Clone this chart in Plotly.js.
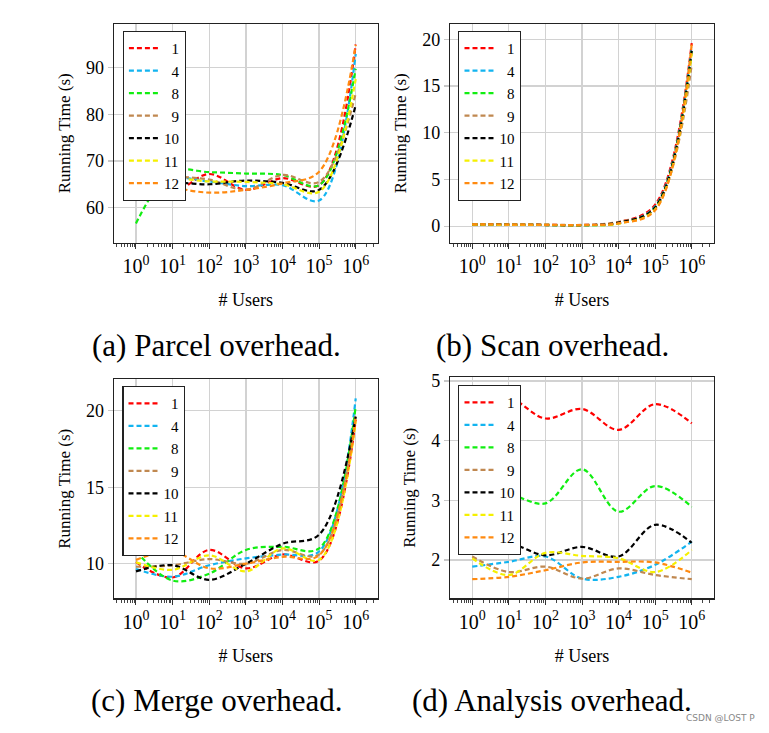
<!DOCTYPE html>
<html>
<head>
<meta charset="utf-8">
<script src="https://cdn.plot.ly/plotly-3.0.1.min.js"></script>
<style>html,body{margin:0;padding:0;background:#fff;}#chart{width:769px;height:733px;}</style>
</head>
<body>
<div id="chart"></div>
<script>
// ---------------- data ----------------
const users = [1, 10, 100, 1000, 10000, 100000, 1000000];
const seriesNames = ["1", "4", "8", "9", "10", "11", "12"];
const xTickVals = [1, 10, 100, 1000, 10000, 100000, 1000000];
const xTickText = ["10<sup>0</sup>", "10<sup>1</sup>", "10<sup>2</sup>", "10<sup>3</sup>", "10<sup>4</sup>", "10<sup>5</sup>", "10<sup>6</sup>"];
const captions = ["(a) Parcel overhead.", "(b) Scan overhead.", "(c) Merge overhead.", "(d) Analysis overhead."];

// (a) Parcel overhead, one row per series (1,4,8,9,10,11,12)
const parcelOverhead = [
  [66.0, 63.4, 67.2, 63.8, 66.3, 64.8, 95.0],
  [61.9, 66.2, 65.6, 64.6, 64.8, 61.5, 93.0],
  [56.6, 67.7, 67.6, 67.3, 67.0, 64.8, 89.8],
  [66.5, 66.6, 66.0, 63.8, 67.0, 65.5, 84.5],
  [64.0, 65.3, 65.0, 65.8, 65.3, 63.8, 82.0],
  [62.7, 66.0, 65.6, 65.5, 65.0, 63.4, 87.6],
  [66.5, 64.4, 63.2, 63.8, 65.2, 67.7, 94.9]
];
// (b) Scan overhead
const scanOverhead = [
  [0.20, 0.18, 0.15, 0.12, 0.42, 2.3, 19.6],
  [0.15, 0.14, 0.12, 0.10, 0.35, 2.1, 19.2],
  [0.18, 0.15, 0.13, 0.11, 0.30, 2.0, 19.0],
  [0.22, 0.20, 0.16, 0.14, 0.45, 1.9, 17.3],
  [0.17, 0.15, 0.12, 0.10, 0.38, 2.0, 18.8],
  [0.16, 0.14, 0.12, 0.10, 0.28, 1.8, 18.5],
  [0.19, 0.17, 0.14, 0.12, 0.30, 1.7, 19.5]
];
// (c) Merge overhead
const mergeOverhead = [
  [10.1, 9.1, 10.9, 9.7, 10.6, 10.2, 19.4],
  [9.65, 9.15, 9.9, 10.35, 10.6, 10.8, 20.8],
  [10.8, 8.9, 9.35, 10.9, 11.1, 11.0, 20.3],
  [9.8, 9.9, 10.3, 10.0, 10.9, 10.6, 19.8],
  [9.5, 9.9, 8.95, 10.0, 11.3, 11.9, 19.6],
  [10.1, 9.6, 10.55, 9.5, 11.0, 10.25, 19.3],
  [10.25, 10.8, 9.7, 10.0, 10.45, 10.55, 19.5]
];
// (d) Analysis overhead
const analysisOverhead = [
  [4.55, 4.71, 4.37, 4.53, 4.18, 4.61, 4.29],
  [1.89, 1.97, 2.06, 1.69, 1.72, 1.92, 2.31],
  [3.0, 3.09, 2.95, 3.52, 2.81, 3.24, 2.89],
  [2.06, 1.80, 1.89, 1.69, 1.86, 1.75, 1.68],
  [2.14, 2.27, 2.08, 2.22, 2.06, 2.59, 2.29],
  [2.03, 1.75, 2.12, 2.07, 2.03, 1.80, 2.17],
  [1.68, 1.72, 1.83, 1.96, 1.97, 1.96, 1.79]
];

// ---------------- styles ----------------
const colors = ["#ff0000", "#12b4f0", "#11ee11", "#c08850", "#000000", "#f5f000", "#ff8a10"];
const FONT = '"Liberation Serif", "Times New Roman", Times, serif';
const panels = [parcelOverhead, scanOverhead, mergeOverhead, analysisOverhead];
const axisIds = [["x", "y"], ["x2", "y2"], ["x3", "y3"], ["x4", "y4"]];
const legendIds = ["legend", "legend2", "legend3", "legend4"];

const traces = [];
panels.forEach((panel, p) => {
  panel.forEach((vals, i) => {
    traces.push({
      x: users, y: vals, type: "scatter", mode: "lines",
      name: seriesNames[i].padStart(2, "\u2007"),
      xaxis: axisIds[p][0], yaxis: axisIds[p][1],
      legend: legendIds[p],
      line: {color: colors[i], width: 2.2, dash: "5px,3px", shape: "spline", smoothing: 1},
      hoverinfo: "skip"
    });
  });
});

function xAxis(domain, anchor) {
  return {
    domain: domain, anchor: anchor, type: "log", range: [-0.6, 6.6],
    tickvals: xTickVals, ticktext: xTickText,
    ticks: "outside", ticklen: 5, tickwidth: 1, tickcolor: "#333",
    minor: {ticks: "outside", ticklen: 3, tickcolor: "#444", tickwidth: 1, dtick: "D1", showgrid: false},
    showgrid: true, gridcolor: "#d2d2d2", gridwidth: 1.3,
    showline: true, mirror: true, linecolor: "#222", linewidth: 1.5,
    zeroline: false,
    tickfont: {family: FONT, size: 20, color: "#000"},
    title: {text: "# Users", font: {family: FONT, size: 18, color: "#000"}, standoff: 17},
    automargin: false
  };
}
function yAxis(domain, anchor, range, tickvals) {
  return {
    domain: domain, anchor: anchor, range: range, tickvals: tickvals,
    ticks: "outside", ticklen: 5, tickcolor: "#c8c8c8", tickwidth: 1.3,
    showgrid: true, gridcolor: "#d2d2d2", gridwidth: 1.3,
    showline: true, mirror: true, linecolor: "#222", linewidth: 1.5,
    zeroline: false,
    tickfont: {family: FONT, size: 18, color: "#000"},
    title: {text: "Running Time (s)", font: {family: FONT, size: 17, color: "#000"}, standoff: 11},
    automargin: false
  };
}

const W = 769, H = 733;
const dxL = [114 / W, 377.7 / W], dxR = [450.3 / W, 713.7 / W];
const dyT = [1 - 242.5 / H, 1 - 24 / H];
const dyBL = [1 - 598.3 / H, 1 - 379.3 / H];
const dyBR = [1 - 598.3 / H, 1 - 377.3 / H];

function legend(x, y) {
  return {
    x: x, y: y, xanchor: "left", yanchor: "top",
    bgcolor: "#fff", bordercolor: "#222", borderwidth: 1.2,
    font: {family: FONT, size: 15, color: "#000"},
    itemwidth: 30, tracegroupgap: 0
  };
}

const annotations = [
  [216, 345], [552, 345], [217, 700], [552, 700]
].map((pos, i) => ({
  xref: "paper", yref: "paper", x: pos[0] / W, y: 1 - pos[1] / H,
  xanchor: "center", yanchor: "middle", showarrow: false,
  text: captions[i], font: {family: FONT, size: 31, color: "#000"}
}));
annotations.push({
  xref: "paper", yref: "paper", x: 757 / W, y: 1 - 718 / H, xanchor: "right", yanchor: "middle",
  showarrow: false, text: "CSDN @LOST P", font: {family: "DejaVu Sans, sans-serif", size: 9, color: "#888"}
});

const layout = {
  width: W, height: H, margin: {l: 0, r: 0, t: 0, b: 0},
  paper_bgcolor: "#fff", plot_bgcolor: "#fff", showlegend: true,
  xaxis: xAxis(dxL, "y"), yaxis: yAxis(dyT, "x", [52.5, 99.4], [60, 70, 80, 90]),
  xaxis2: xAxis(dxR, "y2"), yaxis2: yAxis(dyT, "x2", [-1.75, 21.64], [0, 5, 10, 15, 20]),
  xaxis3: xAxis(dxL, "y3"), yaxis3: yAxis(dyBL, "x3", [7.74, 22.05], [10, 15, 20]),
  xaxis4: xAxis(dxR, "y4"), yaxis4: yAxis(dyBR, "x4", [1.36, 5.06], [2, 3, 4, 5]),
  legend: legend(122.7 / W, 1 - 30.7 / H),
  legend2: legend(458.3 / W, 1 - 30.7 / H),
  legend3: legend(122.3 / W, 1 - 386 / H),
  legend4: legend(458.3 / W, 1 - 385 / H),
  annotations: annotations
};

Plotly.newPlot("chart", traces, layout, {staticPlot: true, displayModeBar: false});
</script>
</body>
</html>
